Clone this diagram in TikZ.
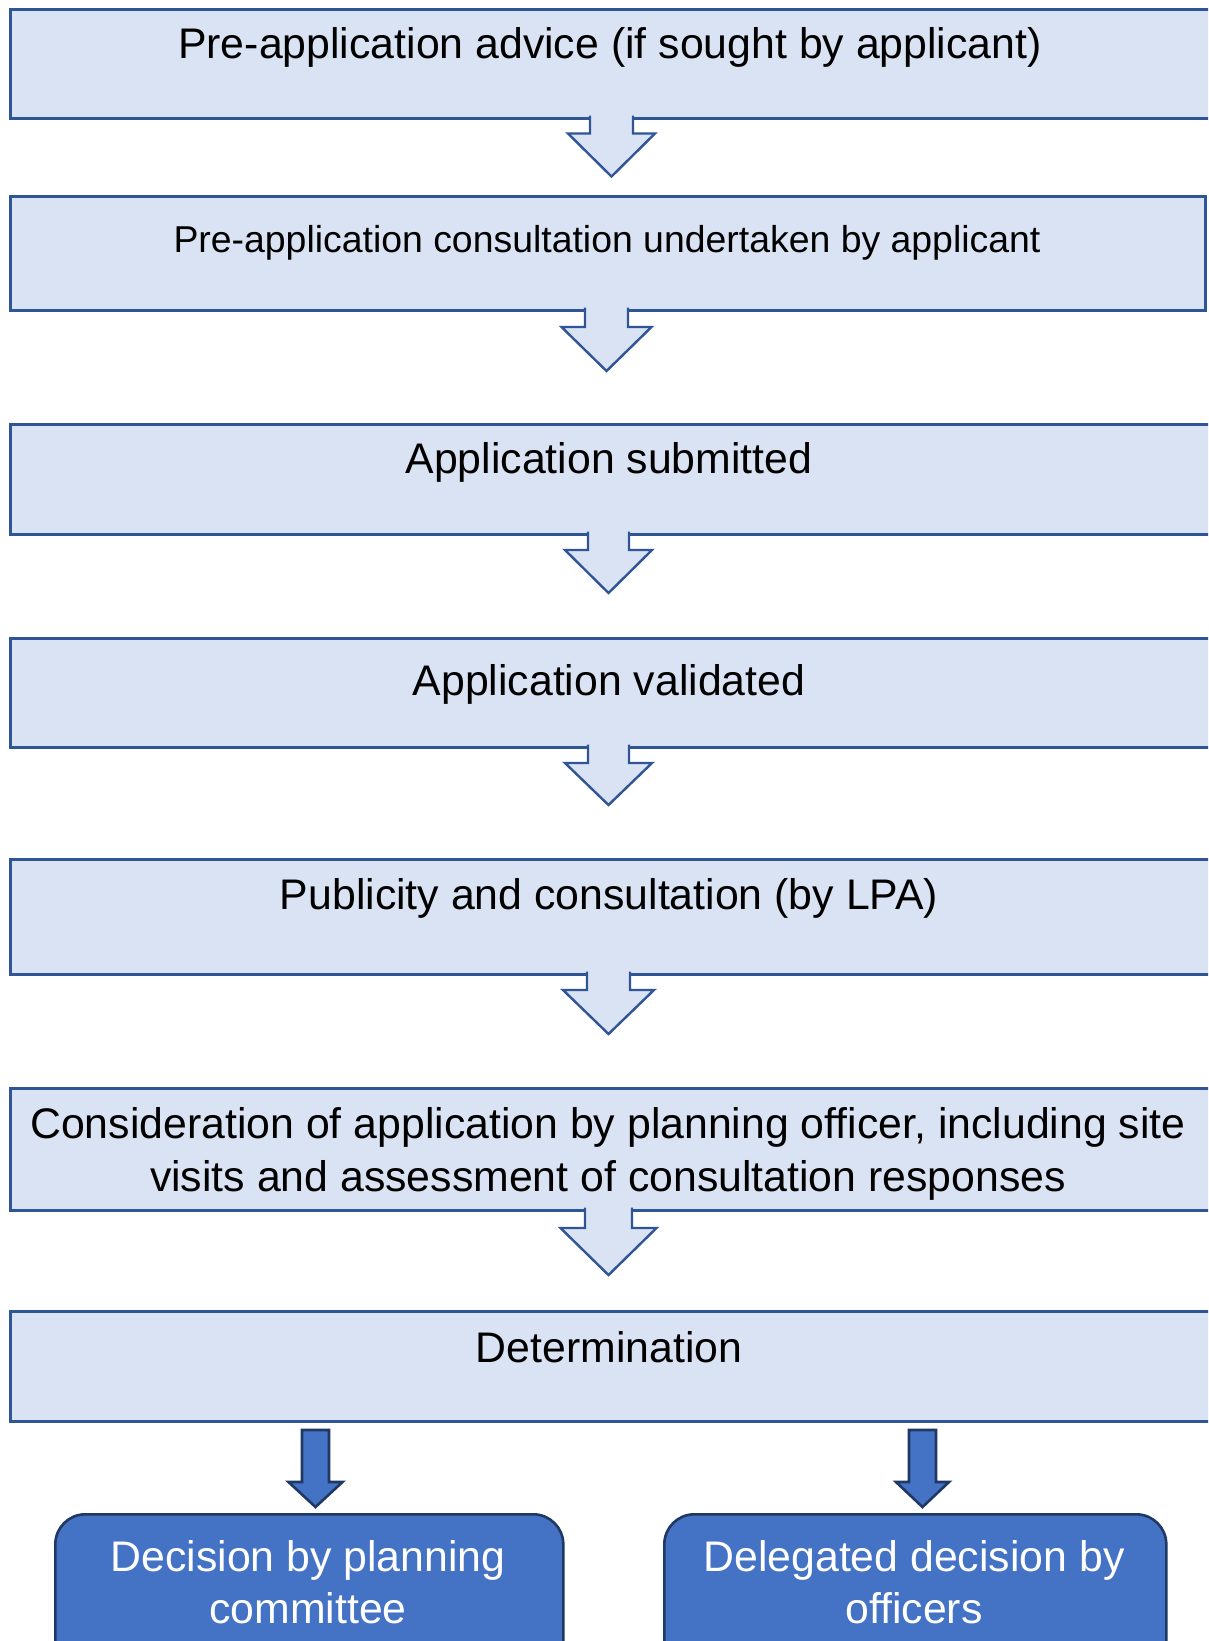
\documentclass[tikz,border=0pt]{standalone}
\usepackage{fontspec}
\setmainfont{Liberation Sans}
\definecolor{lightfill}{HTML}{DAE3F3}
\definecolor{lightline}{HTML}{2F5597}
\definecolor{darkfill}{HTML}{4472C4}
\definecolor{darkline}{HTML}{203864}
\tikzset{
  stagebox/.style={draw=lightline, fill=lightfill, line width=2.7pt, rectangle, inner sep=0pt, anchor=north west},
  outcomebox/.style={draw=darkline, fill=darkfill, line width=2.6pt, rectangle, rounded corners=30pt, inner sep=0pt, anchor=north west},
  bigtext/.style={anchor=base, inner sep=0pt, font=\fontsize{42.8}{52}\selectfont},
  midtext/.style={anchor=base, inner sep=0pt, font=\fontsize{37.4}{45}\selectfont},
  whitetext/.style={bigtext, text=white},
  lightarrowline/.style={draw=lightline, line width=2.4pt, line join=miter},
  darkarrowline/.style={draw=darkline, fill=darkfill, line width=2.6pt, line join=miter}
}
% #1 cx, #2 top, #3 head base, #4 tip, #5 half shaft, #6 half head
\newcommand\flowLightArrow[6]{%
  \fill[lightfill] (#1-#5,#2-1.5) -- (#1-#5,#3) -- (#1-#6,#3) -- (#1,#4) -- (#1+#6,#3) -- (#1+#5,#3) -- (#1+#5,#2-1.5) -- cycle;
  \draw[lightarrowline] (#1-#5,#2-1.4) -- (#1-#5,#3) -- (#1-#6,#3) -- (#1,#4) -- (#1+#6,#3) -- (#1+#5,#3) -- (#1+#5,#2-1.4);
}
\newcommand\flowDarkArrow[6]{%
  \draw[darkarrowline] (#1-#5,#2) -- (#1-#5,#3) -- (#1-#6,#3) -- (#1,#4) -- (#1+#6,#3) -- (#1+#5,#3) -- (#1+#5,#2) -- cycle;
}
\begin{document}
\begin{tikzpicture}[x=1pt, y=-1pt]
\clip (0,0) rectangle (1208,1641);
\fill[white] (0,0) rectangle (1208,1641);

% stage boxes
\node[stagebox, minimum width=1200pt, minimum height=108.7pt] (b1) at (9,8.3) {};
\node[stagebox, minimum width=1195pt, minimum height=114pt] (b2) at (9,195) {};
\node[stagebox, minimum width=1200pt, minimum height=110pt] (b3) at (9,423) {};
\node[stagebox, minimum width=1200pt, minimum height=109pt] (b4) at (9,637) {};
\node[stagebox, minimum width=1200pt, minimum height=115pt] (b5) at (9,858) {};
\node[stagebox, minimum width=1200pt, minimum height=122pt] (b6) at (9,1087) {};
\node[stagebox, minimum width=1200pt, minimum height=110pt] (b7) at (9,1310) {};

% texts
\node[bigtext] (t1) at (610,58.2) {Pre-application advice (if sought by applicant)};
\node[midtext] (t2) at (607,252.5) {Pre-application consultation undertaken by applicant};
\node[bigtext] (t3) at (609,473.6) {Application submitted};
\node[bigtext] (t4) at (609,695) {Application validated};
\node[bigtext] (t5) at (609,909.5) {Publicity and consultation (by LPA)};
\node[bigtext] (t6a) at (608,1138.3) {Consideration of application by planning officer, including site};
\node[bigtext] (t6b) at (608,1191.7) {visits and assessment of consultation responses};
\node[bigtext] (t7) at (609,1362.5) {Determination};

% light block arrows
\flowLightArrow{611.5}{117}{133.5}{176.5}{21.5}{43.5}
\flowLightArrow{606.5}{309}{327}{371}{21.5}{45}
\flowLightArrow{608.5}{533}{550}{593}{20.5}{43.5}
\flowLightArrow{608.5}{746}{763}{805}{20.5}{43.5}
\flowLightArrow{608.5}{973}{990}{1034}{21.5}{45.5}
\flowLightArrow{608.5}{1209}{1228}{1275}{23.5}{48}

% outcome boxes
\node[outcomebox, minimum width=508pt, minimum height=200pt] (o1) at (54,1513) {};
\node[outcomebox, minimum width=502pt, minimum height=200pt] (o2) at (663,1513) {};
\node[whitetext] (o1a) at (308,1571.3) {Decision by planning};
\node[whitetext] (o1b) at (308,1623.7) {committee};
\node[whitetext] (o2a) at (914,1571.3) {Delegated decision by};
\node[whitetext] (o2b) at (914,1623.7) {officers};

% dark block arrows
\flowDarkArrow{315.5}{1430}{1482}{1507}{13.5}{27}
\flowDarkArrow{922.5}{1430}{1482}{1507}{13.5}{26.5}
\end{tikzpicture}
\end{document}
